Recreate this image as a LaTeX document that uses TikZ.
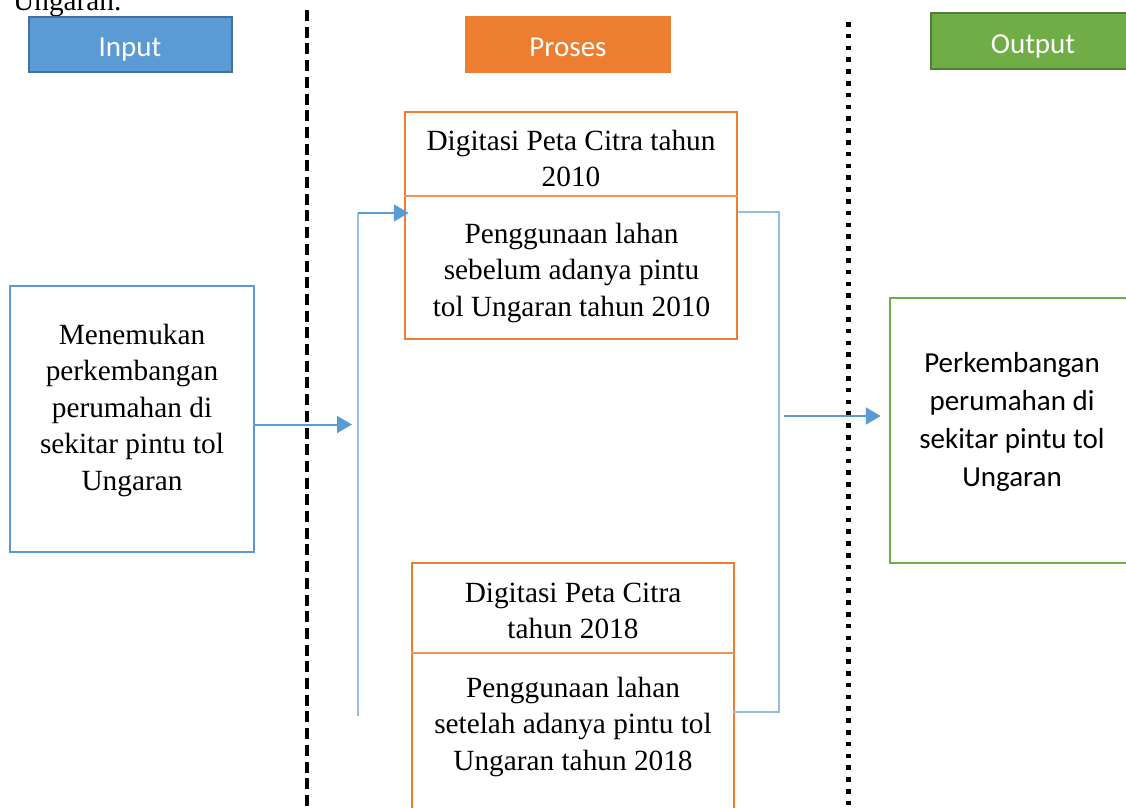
\documentclass[tikz,border=0pt]{standalone}
\usepackage{fontspec}
\setmainfont{Liberation Serif}
\newfontfamily\calib{Carlito}
\usetikzlibrary{arrows.meta}
\definecolor{inblue}{HTML}{5B9BD5}
\definecolor{indark}{HTML}{41719C}
\definecolor{orng}{HTML}{ED7D31}
\definecolor{orngline}{HTML}{F0955A}
\definecolor{grn}{HTML}{70AD47}
\definecolor{grndark}{HTML}{507E32}
\definecolor{ltblue}{HTML}{93BDE4}
\newcommand{\tlines}[1]{\begin{tabular}[t]{@{}c@{}}#1\end{tabular}}
\begin{document}
\begin{tikzpicture}[x=1pt,y=-1pt,
  serif/.style={font=\fontsize{29.3}{36.6}\selectfont, inner sep=0pt, anchor=base},
  sans/.style={font=\calib\fontsize{29}{38}\selectfont, inner sep=0pt, anchor=base},
  header/.style={line width=2pt, minimum width=203pt, minimum height=55pt, inner sep=0pt},
  pbox/.style={draw=orng, line width=2.5pt, inner sep=0pt},
  divider/.style={draw=orngline, line width=1.2pt},
  arr/.style={draw=inblue, line width=2pt, -{Triangle[length=15pt 0 0,width=17pt 0 0]}},
  bracket/.style={draw=ltblue, line width=1.6pt},
  sep1/.style={line width=4pt, dash pattern=on 11pt off 5.7pt},
  sep2/.style={line width=5pt, dash pattern=on 4.5pt off 7.3pt}
]
\useasboundingbox (0,0) rectangle (1126,807);
\clip (0,0) rectangle (1126,807);

% caption remnant at top
\node[serif, anchor=base west] (capt) at (13,10) {Ungaran.};

% separators
\draw[sep1] (307,10) -- (307,830);
\draw[sep2] (848.5,22) -- (848.5,830);

% headers
\node[header, fill=inblue, draw=indark] (hin) at (130.5,44.5) {};
\node[sans, text=white] (hint) at (130,56) {Input};
\node[header, fill=orng, draw=orng, minimum width=204pt] (hpr) at (568,44.5) {};
\node[sans, text=white] (hprt) at (568,56) {Proses};
\node[header, fill=grn, draw=grndark, minimum width=204pt, minimum height=56pt] (hout) at (1033,41) {};
\node[sans, text=white] (houtt) at (1033,53) {Output};

% input box
\node[draw=inblue, line width=2pt, minimum width=244pt, minimum height=266pt, inner sep=0pt] (inbox) at (132,419) {};
\node[serif] (intext) at (132,344) {\tlines{Menemukan\\perkembangan\\perumahan di\\sekitar pintu tol\\Ungaran}};

% process boxes
\node[pbox, minimum width=332pt, minimum height=227pt] (top) at (571,225.5) {};
\draw[divider] (top.west |- 0,196) -- (top.east |- 0,196);
\node[serif] (toptxt1) at (571,150) {\tlines{Digitasi Peta Citra tahun\\2010}};
\node[serif] (toptxt2) at (571.5,243) {\tlines{Penggunaan lahan\\sebelum adanya pintu\\tol Ungaran tahun 2010}};

\node[pbox, minimum width=322pt, minimum height=267pt] (bot) at (573,696.5) {};
\draw[divider] (bot.west |- 0,653) -- (bot.east |- 0,653);
\node[serif] (bottxt1) at (573,602) {\tlines{Digitasi Peta Citra\\tahun 2018}};
\node[serif] (bottxt2) at (573,697) {\tlines{Penggunaan lahan\\setelah adanya pintu tol\\Ungaran tahun 2018}};

% output box
\node[draw=grn, line width=2.5pt, minimum width=244pt, minimum height=265pt, inner sep=0pt] (outbox) at (1012,430.5) {};
\node[sans] (outtext) at (1012,372) {\tlines{Perkembangan\\perumahan di\\sekitar pintu tol\\Ungaran}};

% connectors
\coordinate (ain) at (352,424.5);
\draw[arr] (inbox.east |- ain) -- (ain);

\coordinate (lbtop) at (358,213);
\coordinate (lbbot) at (358,716);
\draw[bracket] (lbbot) -- (lbtop);
\draw[arr] (lbtop) -- ([xshift=5pt]top.west |- lbtop);

\coordinate (rbtop) at (779,212);
\coordinate (rbbot) at (779,712);
\draw[bracket] (top.east |- rbtop) -- (rbtop) -- (rbbot) -- ([xshift=-2pt]bot.east |- rbbot);

\coordinate (aout) at (784,416);
\draw[arr] (aout) -- ([xshift=-8pt]outbox.west |- aout);
\end{tikzpicture}
\end{document}
